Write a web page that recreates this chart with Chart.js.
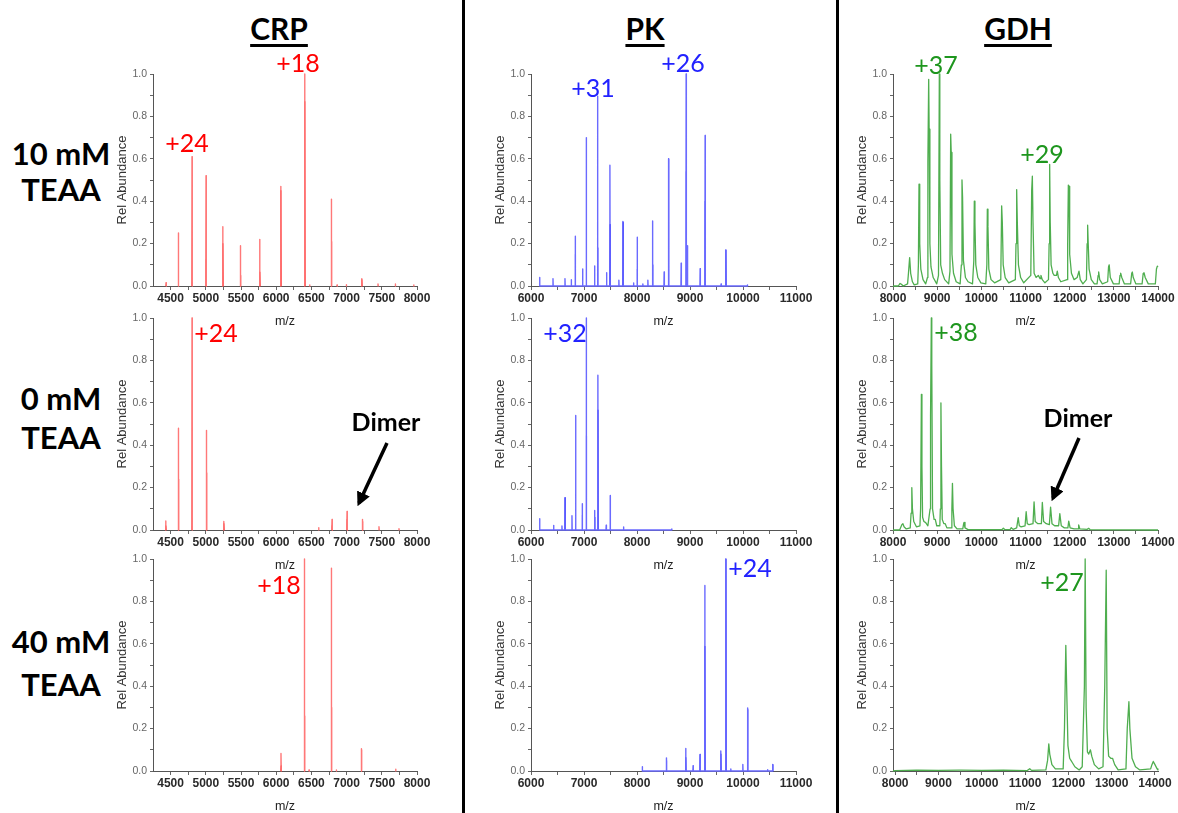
<!DOCTYPE html>
<html>
<head>
<meta charset="utf-8">
<script src="https://cdn.jsdelivr.net/npm/chart.js@4.4.1/dist/chart.umd.min.js"></script>
<style>
  body { margin: 0; background: #fff; }
  #fig { position: relative; width: 1178px; height: 813px; overflow: hidden; font-family: Lato, "Liberation Sans", sans-serif; }
  #fig canvas { position: absolute; }
  .t { position: absolute; white-space: nowrap; transform: translate(-50%, -50%); line-height: 1; }
  .hdr { font-weight: bold; font-size: 30px; color: #000; text-decoration: underline; text-decoration-thickness: 3px; text-underline-offset: 4px; }
  .row { font-weight: bold; font-size: 31px; color: #000; }
  .ion { font-size: 25px; }
  .dimer { font-weight: bold; font-size: 25px; color: #000; }
  .vline { position: absolute; top: 0; width: 3px; height: 813px; background: #000; }
  svg { position: absolute; left: 0; top: 0; }
</style>
</head>
<body>
<div id="fig">
  <div class="vline" style="left:462px"></div>
  <div class="vline" style="left:836px"></div>

  <div class="t hdr" style="left:279px;top:28px">CRP</div>
  <div class="t hdr" style="left:645px;top:28px">PK</div>
  <div class="t hdr" style="left:1018px;top:28px">GDH</div>

  <div class="t row" style="left:61px;top:153px">10 mM</div>
  <div class="t row" style="left:61px;top:189px">TEAA</div>
  <div class="t row" style="left:61px;top:398px">0 mM</div>
  <div class="t row" style="left:61px;top:437px">TEAA</div>
  <div class="t row" style="left:61px;top:641px">40 mM</div>
  <div class="t row" style="left:61px;top:684px">TEAA</div>
</div>

<script>
// ---- data (m/z, abundance) ----
// stick spectra: [m/z, peak height, inner (darker) height]
const crp10 = [[4435,0.016,0],[4610,0.25,0],[4804,0.61,0],[5003,0.52,0.125],[5240,0.28,0.2],[5491,0.19,0.05],[5765,0.22,0.066],[6064,0.47,0.45],[6404,1.0,0.87],[6475,0.005,0],[6783,0.41,0.21],[6864,0.005,0],[6996,0.006,0],[7214,0.035,0.03],[7446,0.01,0],[7692,0.01,0],[7953,0.005,0]];
const crp0 = [[4430,0.043,0.02],[4610,0.48,0.24],[4804,1.0,0],[5008,0.47,0.27],[5254,0.04,0.03],[6603,0.011,0],[6793,0.05,0.02],[7006,0.087,0.05],[7224,0.05,0.04],[7460,0.015,0],[7744,0.006,0]];
const crp40 = [[6068,0.083,0.024],[6400,1.0,0.26],[6466,0.005,0],[6783,0.957,0.30],[6854,0.005,0],[7209,0.105,0.1],[7697,0.008,0]];

const pk10 = [[6163,0.04,0],[6415,0.035,0],[6641,0.035,0],[6760,0.03,0],[6835,0.235,0.15],[6974,0.08,0],[7043,0.70,0],[7200,0.095,0],[7256,0.895,0.18],[7426,0.063,0],[7489,0.57,0.29],[7658,0.027,0],[7734,0.305,0.3],[7935,0.014,0],[8004,0.23,0.08],[8110,0.01,0],[8205,0.027,0],[8293,0.307,0.1],[8512,0.066,0],[8594,0.60,0.6],[8833,0.108,0],[8927,1.0,0.54],[8952,0.19,0],[9191,0.082,0],[9285,0.71,0.40],[9587,0.01,0],[9675,0.17,0.17],[10083,0.005,0]];
const pk0 = [[6163,0.053,0],[6427,0.022,0],[6584,0.019,0],[6641,0.152,0.152],[6773,0.067,0],[6842,0.54,0],[6967,0.124,0.07],[7043,1.0,0.446],[7200,0.092,0.06],[7262,0.73,0.566],[7419,0.023,0],[7495,0.163,0.163],[7746,0.014,0],[8657,0.005,0]];
const pk40 = [[8100,0.02,0],[8554,0.062,0.05],[8919,0.106,0.064],[9058,0.025,0],[9190,0.078,0.078],[9279,0.875,0.588],[9581,0.094,0.08],[9676,1.0,1.0],[9770,0.01,0],[9997,0.031,0],[10086,0.297,0.29],[10464,0.006,0],[10559,0.031,0.03]];

// profile spectra: [m/z, abundance]
const gdh10 = [[8000,0],[8120,0],[8160,0.012],[8190,0.008],[8230,0],[8330,0.01],[8350,0.06],[8377,0.134],[8400,0.06],[8440,0.02],[8480,0.005],[8560,0.01],[8575,0.1],[8589,0.48],[8605,0.2],[8630,0.08],[8680,0.03],[8740,0.01],[8780,0.04],[8790,0.59],[8808,0.975],[8818,0.74],[8835,0.2],[8860,0.09],[8910,0.04],[8990,0.01],[9030,0.05],[9049,1.0],[9060,0.5],[9080,0.1],[9120,0.06],[9170,0.03],[9260,0.01],[9290,0.07],[9306,0.716],[9318,0.63],[9335,0.15],[9370,0.06],[9430,0.02],[9520,0.01],[9548,0.1],[9562,0.5],[9575,0.42],[9595,0.12],[9640,0.04],[9700,0.02],[9800,0.01],[9830,0.12],[9841,0.40],[9855,0.3],[9875,0.1],[9920,0.04],[9990,0.015],[10100,0.01],[10125,0.1],[10136,0.362],[10150,0.28],[10170,0.08],[10220,0.03],[10300,0.015],[10440,0.03],[10460,0.378],[10475,0.3],[10495,0.1],[10540,0.04],[10620,0.015],[10770,0.03],[10785,0.2],[10800,0.455],[10815,0.3],[10840,0.1],[10890,0.04],[10960,0.015],[11120,0.05],[11140,0.45],[11155,0.518],[11170,0.3],[11195,0.06],[11240,0.04],[11290,0.05],[11330,0.035],[11350,0.05],[11380,0.03],[11440,0.015],[11520,0.03],[11535,0.2],[11547,0.573],[11560,0.3],[11580,0.1],[11620,0.06],[11650,0.05],[11700,0.05],[11720,0.07],[11745,0.04],[11800,0.02],[11940,0.03],[11955,0.2],[11970,0.476],[11985,0.47],[12000,0.15],[12040,0.06],[12100,0.03],[12170,0.04],[12211,0.07],[12240,0.03],[12300,0.01],[12380,0.03],[12395,0.2],[12407,0.287],[12420,0.2],[12440,0.08],[12490,0.03],[12560,0.01],[12620,0.01],[12645,0.05],[12657,0.066],[12680,0.03],[12740,0.01],[12860,0.02],[12880,0.09],[12895,0.1],[12920,0.04],[12990,0.01],[13120,0.01],[13140,0.05],[13155,0.061],[13180,0.04],[13240,0.01],[13380,0.01],[13405,0.06],[13419,0.066],[13440,0.04],[13500,0.01],[13640,0.01],[13665,0.06],[13683,0.063],[13710,0.04],[13780,0.01],[13940,0.01],[13965,0.08],[13985,0.094],[14000,0.09]];
const gdh0 = [[8000,0],[8150,0],[8200,0.025],[8224,0.03],[8250,0.015],[8300,0.005],[8390,0.01],[8410,0.08],[8426,0.2],[8440,0.1],[8470,0.04],[8530,0.015],[8610,0.02],[8625,0.1],[8643,0.64],[8655,0.3],[8670,0.06],[8700,0.04],[8740,0.035],[8790,0.02],[8840,0.1],[8850,0.54],[8868,1.0],[8878,0.78],[8895,0.1],[8930,0.05],[8957,0.05],[8990,0.02],[9060,0.02],[9072,0.1],[9085,0.60],[9098,0.3],[9115,0.05],[9150,0.03],[9182,0.03],[9220,0.01],[9320,0.01],[9333,0.1],[9346,0.22],[9360,0.1],[9390,0.02],[9450,0.005],[9580,0.005],[9600,0.03],[9608,0.036],[9630,0.01],[9700,0.002],[10400,0.002],[10470,0.002],[10498,0.008],[10530,0.002],[10650,0.002],[10678,0.011],[10720,0.003],[10800,0.01],[10835,0.058],[10860,0.02],[10900,0.015],[10990,0.02],[11015,0.086],[11040,0.03],[11080,0.025],[11170,0.03],[11194,0.133],[11220,0.04],[11280,0.03],[11360,0.03],[11381,0.13],[11410,0.04],[11470,0.03],[11540,0.025],[11568,0.108],[11600,0.03],[11660,0.02],[11750,0.02],[11777,0.077],[11810,0.02],[11880,0.01],[11960,0.01],[11979,0.042],[12010,0.01],[12100,0.005],[12190,0.005],[12204,0.024],[12230,0.005],[12400,0.003],[12428,0.008],[12460,0.002],[14000,0]];
const gdh40 = [[7950,0],[8000,0.002],[8500,0.004],[9000,0.003],[9500,0.004],[10000,0.003],[10500,0.004],[11050,0.002],[11108,0.011],[11150,0.003],[11480,0.005],[11520,0.05],[11548,0.128],[11570,0.08],[11620,0.03],[11700,0.01],[11880,0.01],[11910,0.2],[11941,0.593],[11965,0.35],[11990,0.12],[12030,0.06],[12060,0.05],[12090,0.04],[12150,0.02],[12250,0.005],[12320,0.02],[12370,0.4],[12388,1.0],[12410,0.3],[12440,0.09],[12470,0.08],[12510,0.1],[12540,0.07],[12600,0.03],[12700,0.01],[12800,0.02],[12840,0.4],[12874,0.947],[12895,0.2],[12930,0.07],[12980,0.06],[13020,0.06],[13070,0.03],[13150,0.005],[13330,0.01],[13360,0.2],[13398,0.327],[13420,0.2],[13470,0.06],[13550,0.02],[13650,0.005],[13900,0.01],[13930,0.03],[13961,0.045],[14000,0.03],[14050,0.01],[14068,0.005]];

// axis ticks
const crpTicks = [4500, 5000, 5500, 6000, 6500, 7000, 7500, 8000];
const pkTicks = [6000, 7000, 8000, 9000, 10000, 11000];
const gdhTicks = [8000, 9000, 10000, 11000, 12000, 13000, 14000];
const yTicks = [0, 0.2, 0.4, 0.6, 0.8, 1.0];
const yMinor = [0.1, 0.3, 0.5, 0.7, 0.9];

// charge-state labels: [text, x, y, colour index]
const ionLabels = [
  ['+24', 187, 142, 0], ['+18', 298, 62, 0], ['+31', 593, 87, 1], ['+26', 683, 62, 1], ['+37', 936, 64, 2], ['+29', 1042, 153, 2],
  ['+24', 216, 332, 0], ['+32', 565, 332, 1], ['+38', 956, 331, 2],
  ['+18', 279, 584, 0], ['+24', 750, 567, 1], ['+27', 1062, 581, 2]
];
const ionColors = ['#ff0000', '#2222ff', '#1e961e'];

// ---- layout ----
const colAxisX = [153, 531, 893];
const colRight = [417, 796, 1158];
const rowTop = [74, 318, 559];
const PLOT_H = 212, YW = 42, XH = 47, PT = 12, PR = 26;

const cols = [
  { ticks: crpTicks, range: [4250, 8000], outer: '#ff7878', inner: '#ff0000', gaps: true },
  { ticks: pkTicks, range: [6000, 11000], outer: '#6a6aff', inner: '#0000ff', gaps: false },
  { ticks: gdhTicks, range: [8000, 14000], line: '#4fae4f' }
];

const panels = [
  { col: 0, row: 0, sticks: crp10 }, { col: 1, row: 0, sticks: pk10 }, { col: 2, row: 0, profile: gdh10 },
  { col: 0, row: 1, sticks: crp0 },  { col: 1, row: 1, sticks: pk0 },  { col: 2, row: 1, profile: gdh0 },
  { col: 0, row: 2, sticks: crp40 }, { col: 1, row: 2, sticks: pk40 }, { col: 2, row: 2, profile: gdh40, range: [7950, 14070] }
];

function stickPoints(peaks, idx, shift, gaps) {
  const pts = [];
  peaks.forEach((p) => {
    const h = p[idx];
    if (!h) return;
    const x = p[0] + shift;
    pts.push({ x: x - 4, y: 0 }, { x, y: h }, { x: x + 4, y: 0 });
    if (gaps) pts.push({ x: x + 5, y: null });
  });
  return pts;
}

const fig = document.getElementById('fig');

panels.forEach((p) => {
  const c = cols[p.col];
  const range = p.range || c.range;
  const plotW = colRight[p.col] - colAxisX[p.col];
  const canvas = document.createElement('canvas');
  canvas.width = YW + plotW + PR;
  canvas.height = PT + PLOT_H + XH;
  canvas.style.left = (colAxisX[p.col] - YW) + 'px';
  canvas.style.top = (rowTop[p.row] - PT) + 'px';
  fig.appendChild(canvas);

  const lineOpts = { pointRadius: 0, tension: 0, fill: false, borderJoinStyle: 'round', clip: 4 };
  let datasets;
  if (p.sticks) {
    datasets = [
      { ...lineOpts, data: stickPoints(p.sticks, 1, 0, c.gaps), borderColor: c.outer, borderWidth: 1.4 },
      { ...lineOpts, data: stickPoints(p.sticks, 2, 2, true), borderColor: c.inner, borderWidth: 1.1 }
    ];
  } else {
    datasets = [
      { ...lineOpts, data: p.profile.map(([x, y]) => ({ x, y })), borderColor: c.line, borderWidth: 1.3 }
    ];
  }

  const minorX = [];
  for (let i = 0; i < c.ticks.length - 1; i++) minorX.push((c.ticks[i] + c.ticks[i + 1]) / 2);

  new Chart(canvas, {
    type: 'line',
    data: { datasets },
    options: {
      responsive: false,
      animation: false,
      devicePixelRatio: 1,
      events: [],
      layout: { padding: { top: PT, right: PR, left: 0, bottom: 0 } },
      plugins: { legend: { display: false }, tooltip: { enabled: false } },
      scales: {
        x: {
          type: 'linear',
          min: range[0],
          max: range[1],
          afterBuildTicks: (s) => { s.ticks = c.ticks.concat(minorX).sort((a, b) => a - b).map((v) => ({ value: v })); },
          afterFit: (s) => { s.height = XH; },
          ticks: {
            autoSkip: false, maxRotation: 0, padding: 1, color: '#2a2a2a',
            font: { family: 'Liberation Sans', size: 12, weight: 'bold' },
            callback: (v) => (c.ticks.includes(v) ? String(v) : '')
          },
          grid: { display: true, drawOnChartArea: false, drawTicks: true, tickLength: 4, tickColor: '#666' },
          border: { display: true, color: '#555', width: 1 },
          title: { display: true, text: 'm/z', color: '#222', font: { family: 'Liberation Sans', size: 12.5 }, padding: { top: 0, bottom: 4 } }
        },
        y: {
          min: 0,
          max: 1,
          afterBuildTicks: (s) => { s.ticks = yTicks.concat(yMinor).sort((a, b) => a - b).map((v) => ({ value: v })); },
          afterFit: (s) => { s.width = YW; },
          ticks: {
            autoSkip: false, padding: 3, color: '#666',
            font: { family: 'Liberation Sans', size: 10.5 },
            callback: (v) => (yTicks.includes(v) ? v.toFixed(1) : '')
          },
          grid: { display: true, drawOnChartArea: false, drawTicks: true, tickLength: 3, tickColor: '#666' },
          border: { display: true, color: '#555', width: 1 },
          title: { display: true, text: 'Rel Abundance', color: '#333', font: { family: 'Liberation Sans', size: 13 }, padding: { top: 4, bottom: 0 } }
        }
      }
    }
  });
});

// charge-state and dimer labels on top
ionLabels.forEach(([text, x, y, k]) => {
  const d = document.createElement('div');
  d.className = 't ion';
  d.style.left = x + 'px';
  d.style.top = y + 'px';
  d.style.color = ionColors[k];
  d.textContent = text;
  fig.appendChild(d);
});
[['Dimer', 386, 421], ['Dimer', 1078, 417]].forEach(([text, x, y]) => {
  const d = document.createElement('div');
  d.className = 't dimer';
  d.style.left = x + 'px';
  d.style.top = y + 'px';
  d.textContent = text;
  fig.appendChild(d);
});

const svgNS = 'http://www.w3.org/2000/svg';
const svg = document.createElementNS(svgNS, 'svg');
svg.setAttribute('width', 1178);
svg.setAttribute('height', 813);
svg.innerHTML = '<defs><marker id="ah" markerWidth="4" markerHeight="4" refX="3" refY="2" orient="auto" markerUnits="strokeWidth"><path d="M0,0 L4,2 L0,4 z" fill="#000"/></marker></defs>' +
  '<line x1="387" y1="443" x2="359" y2="503" stroke="#000" stroke-width="3.5" marker-end="url(#ah)"/>' +
  '<line x1="1079" y1="438" x2="1053" y2="498" stroke="#000" stroke-width="3.5" marker-end="url(#ah)"/>';
fig.appendChild(svg);
</script>
</body>
</html>
